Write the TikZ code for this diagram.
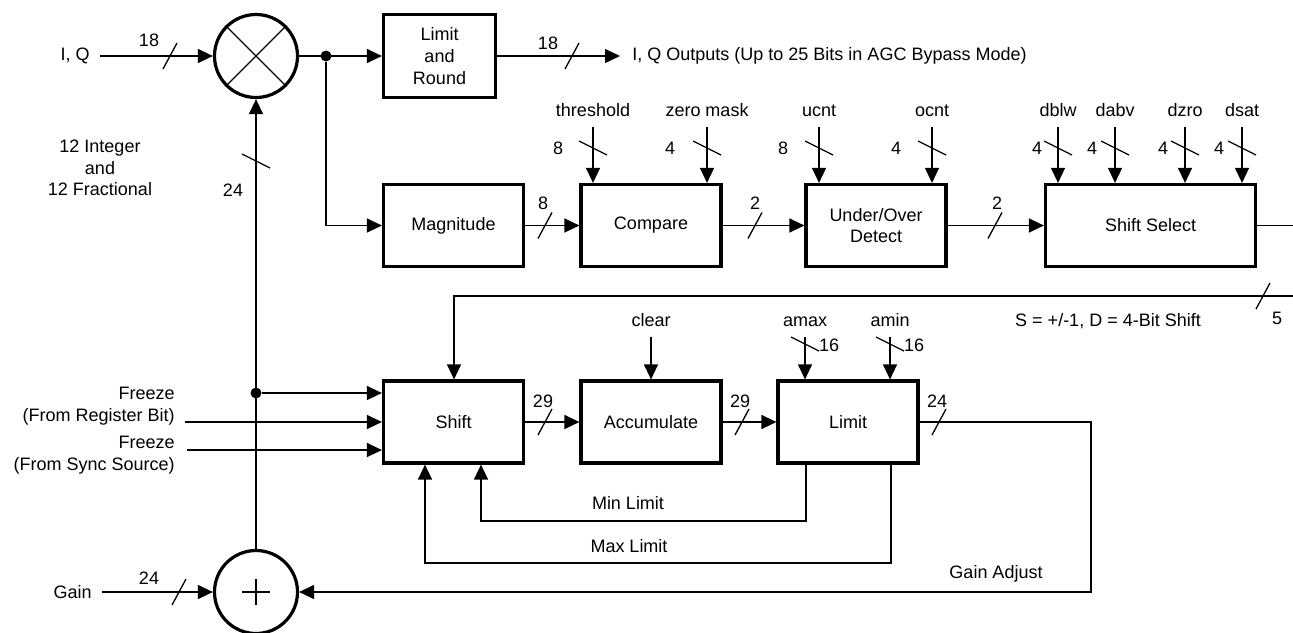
\documentclass[tikz,border=0pt]{standalone}
\usepackage{fontspec}
\setmainfont{Liberation Sans}
\usetikzlibrary{arrows.meta,positioning}

% bus-width ticks (pixel coordinates)
\newcommand{\hbus}[2]{\draw[sig] (#1-7,#2+13) -- (#1+7,#2-13);}
\newcommand{\vbus}[2]{\draw[sig] (#1-14,#2-7) -- (#1+14,#2+7);}

\begin{document}
\begin{tikzpicture}[
  x=0.5pt, y=-0.5pt,
  font=\fontsize{9}{10.8}\selectfont,
  >={Triangle[length=7.5pt,width=7pt]},
  blk/.style={draw, line width=1.6pt, minimum width=70pt, minimum height=41pt,
              align=center, inner sep=1pt},
  op/.style={draw, circle, line width=1.6pt, minimum size=41.5pt, inner sep=0pt},
  sig/.style={draw, line width=0.65pt},
  lbl/.style={inner sep=1pt},
  ctl/.style={anchor=south, text depth=0pt, inner xsep=1pt, inner ysep=5pt},
  dot/.style={circle, fill, inner sep=0pt, minimum size=5.5pt},
]
\useasboundingbox (0,0) rectangle (1293,632);

% ---- operators and blocks ----
\node[op] (mult) at (256,56) {};
\draw[sig] (mult.north east) -- (mult.south west) (mult.north west) -- (mult.south east);
\node[blk, minimum width=56pt, minimum height=41.5pt] (lr) at (439.5,56) {Limit\\and\\Round};
\node[blk] (mag) at (453.5,225.5) {Magnitude};
\node[blk] (cmp) at (651,225.5) {Compare};
\node[blk] (uod) at (876,225.5) {Under/Over\\Detect};
\node[blk, minimum width=105pt] (ssel) at (1150.5,225.5) {Shift Select};
\node[blk] (shift) at (453.5,422) {Shift};
\node[blk] (acc) at (651,422) {Accumulate};
\node[blk] (lim) at (848,422) {Limit};
\node[op] (add) at (256,592) {};
\draw[sig] (add.center) ++(-14,0) -- ++(28,0) (add.center) ++(0,-13) -- ++(0,26);

% ---- I/Q path ----
\node[lbl, anchor=east, inner xsep=5pt] (iq) at (100,56) {I, Q};
\draw[sig,->] (iq.east) -- (mult.west);
\hbus{170}{56} \node[lbl] (iq-w) at (149,40) {18};
\draw[sig,->] (mult.east) -- (lr.west);
\node[lbl, anchor=west, inner xsep=6pt] (iqo) at (620,56) {I, Q Outputs (Up to 25 Bits in AGC Bypass Mode)};
\draw[sig,->] (lr.east) -- (iqo.west);
\hbus{572}{56} \node[lbl] (iqo-w) at (548,43) {18};
\node[dot] (split) at (326,56) {};
\draw[sig,->] (split) |- (mag.west);

% ---- detector chain ----
\draw[sig,->] (mag.east) -- (cmp.west);
\hbus{545}{225.5} \node[lbl] (mag-w) at (543,203) {8};
\draw[sig,->] (cmp.east) -- (uod.west);
\hbus{755}{225.5} \node[lbl] (cmp-w) at (755,203) {2};
\draw[sig,->] (uod.east) -- (ssel.west);
\hbus{995}{225.5} \node[lbl] (uod-w) at (997,203) {2};
\coordinate (sselR) at (1293,225.5);
\draw[sig] (ssel.east) -- (sselR);

% ---- register inputs on top ----
\foreach \n/\x/\t/\b/\w/\wx in {thr/593/threshold/cmp/8/558, zm/707/zero mask/cmp/4/670,
    ucnt/819/ucnt/uod/8/783, ocnt/932/ocnt/uod/4/896,
    dblw/1058/dblw/ssel/4/1037, dabv/1115/dabv/ssel/4/1092,
    dzro/1185/dzro/ssel/4/1163, dsat/1242/dsat/ssel/4/1219}{
  \node[ctl] (\n) at (\x,127) {\t};
  \draw[sig,->] (\n.south) -- (\n.south |- \b.north);
  \vbus{\x}{148}
  \node[lbl] (\n-w) at (\wx,148) {\w};
}

% ---- shift amount feedback ----
\coordinate (fbR) at (1293,296);
\coordinate (fbL) at (454,296);
\draw[sig,->] (fbR) -- (fbL) -- (shift.north -| fbL);
\hbus{1263}{296} \node[lbl] (fb-w) at (1277,318) {5};
\node[lbl] (fbtxt) at (1108,321) {S = +/-1, D = 4-Bit Shift};

% ---- accumulator row ----
\draw[sig,->] (shift.east) -- (acc.west);
\hbus{545}{422} \node[lbl] (shift-w) at (543,401) {29};
\draw[sig,->] (acc.east) -- (lim.west);
\hbus{742}{422} \node[lbl] (acc-w) at (740,401) {29};
\node[ctl] (clr) at (651,337) {clear};
\draw[sig,->] (clr.south) -- (acc.north);
\node[ctl] (amax) at (805,337) {amax};
\draw[sig,->] (amax.south) -- (amax.south |- lim.north);
\vbus{805}{344} \node[lbl] (amax-w) at (829,345) {16};
\node[ctl] (amin) at (890,337) {amin};
\draw[sig,->] (amin.south) -- (amin.south |- lim.north);
\vbus{890}{344} \node[lbl] (amin-w) at (914,345) {16};

% ---- shift inputs ----
\draw[sig,->] (add.north) -- (mult.south);
\vbus{256}{161} \node[lbl] (gv-w) at (233,190) {24};
\node[lbl, align=center] (fmt) at (100,168) {12 Integer\\and\\12 Fractional};
\node[dot] (tap) at (256,393) {};
\draw[sig,->] (tap) -- (shift.west |- tap);
\node[lbl, align=right, anchor=east] (frzreg) at (177,406) {Freeze\\(From Register Bit)};
\coordinate (frzregin) at (185,422);
\draw[sig,->] (frzregin) -- (shift.west |- frzregin);
\node[lbl, align=right, anchor=east] (frzsync) at (177,455) {Freeze\\(From Sync Source)};
\coordinate (frzsyncin) at (187,450);
\draw[sig,->] (frzsyncin) -- (shift.west |- frzsyncin);

% ---- limits back to shift ----
\coordinate (minR) at (806,521);
\coordinate (minL) at (481,521);
\draw[sig,->] (lim.south -| minR) -- (minR) -- (minL) -- (shift.south -| minL);
\node[lbl] (mintxt) at (628,503) {Min Limit};
\coordinate (maxR) at (891,563);
\coordinate (maxL) at (425,563);
\draw[sig,->] (lim.south -| maxR) -- (maxR) -- (maxL) -- (shift.south -| maxL);
\node[lbl] (maxtxt) at (629,546) {Max Limit};

% ---- gain loop ----
\coordinate (gadj) at (1091,422);
\draw[sig,->] (lim.east) -- (gadj) |- (add.east);
\hbus{939}{422} \node[lbl] (lim-w) at (937,401) {24};
\node[lbl] (gadjtxt) at (996,574) {Gain Adjust};
\node[lbl, anchor=east, inner xsep=5pt] (gain) at (102,592) {Gain};
\draw[sig,->] (gain.east) -- (add.west);
\hbus{179}{592} \node[lbl] (gain-w) at (149,578) {24};

\end{tikzpicture}
\end{document}
